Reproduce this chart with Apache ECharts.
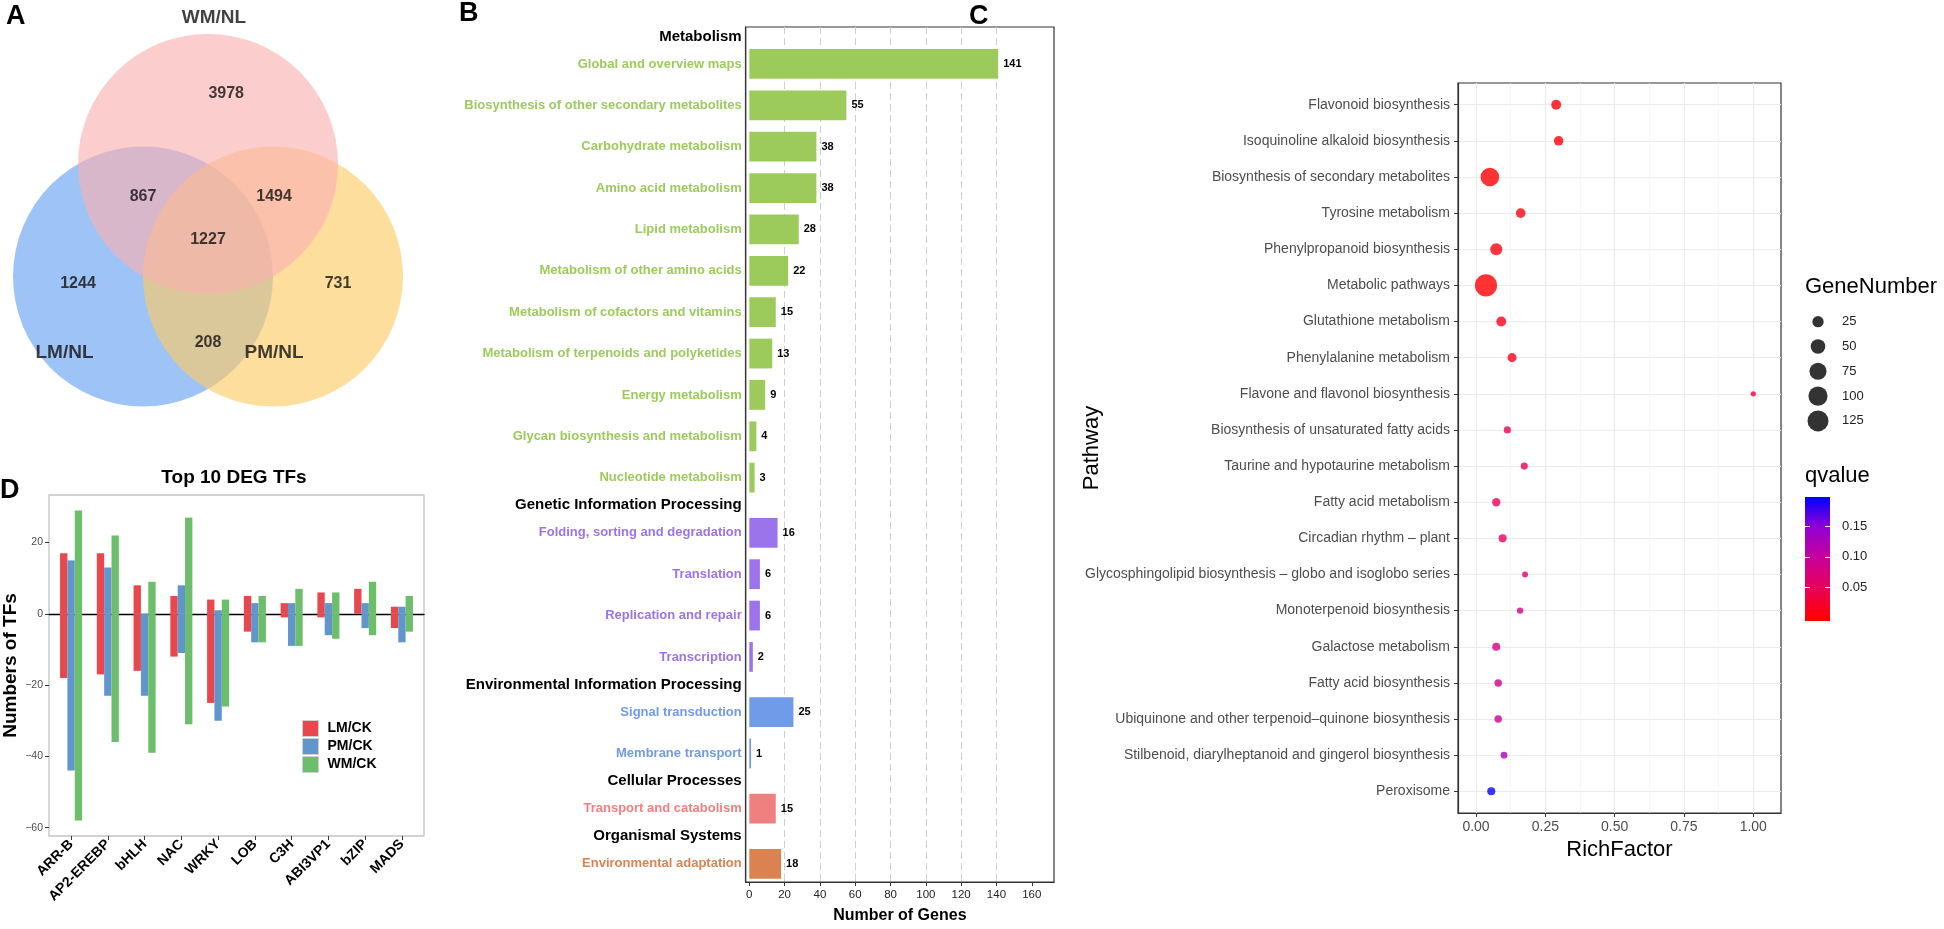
<!DOCTYPE html>
<html><head><meta charset="utf-8">
<script src="https://cdn.jsdelivr.net/npm/echarts@6/dist/echarts.min.js"></script>
<style>html,body{margin:0;padding:0;background:#fff}#main{width:1944px;height:929px}</style>
</head><body><div id="main"></div>
<script>
// ================= DATA =================
// Panel A – Venn
const vennSetNames = ['WM/NL', 'LM/NL', 'PM/NL'];
const vennRegionCounts = [3978, 867, 1494, 1227, 1244, 731, 208]; // WM only, WM∩LM, WM∩PM, all, LM only, PM only, LM∩PM

// Panel B – KEGG classification
const keggGroups = ['Metabolism', 'Genetic Information Processing', 'Environmental Information Processing', 'Cellular Processes', 'Organismal Systems'];
const keggMetabolism = ['Global and overview maps', 'Biosynthesis of other secondary metabolites', 'Carbohydrate metabolism', 'Amino acid metabolism', 'Lipid metabolism', 'Metabolism of other amino acids', 'Metabolism of cofactors and vitamins', 'Metabolism of terpenoids and polyketides', 'Energy metabolism', 'Glycan biosynthesis and metabolism', 'Nucleotide metabolism'];
const keggMetabolismCounts = [141, 55, 38, 38, 28, 22, 15, 13, 9, 4, 3];
const keggGenetic = ['Folding, sorting and degradation', 'Translation', 'Replication and repair', 'Transcription'];
const keggGeneticCounts = [16, 6, 6, 2];
const keggEnvironmental = ['Signal transduction', 'Membrane transport'];
const keggEnvironmentalCounts = [25, 1];
const keggCellular = ['Transport and catabolism'];
const keggCellularCounts = [15];
const keggOrganismal = ['Environmental adaptation'];
const keggOrganismalCounts = [18];
const keggTicks = [0, 20, 40, 60, 80, 100, 120, 140, 160];
const keggGridTicks = [20, 40, 60, 80, 100, 120, 140];

// Panel C – enrichment bubble plot
const pathways = ['Flavonoid biosynthesis', 'Isoquinoline alkaloid biosynthesis', 'Biosynthesis of secondary metabolites', 'Tyrosine metabolism', 'Phenylpropanoid biosynthesis', 'Metabolic pathways', 'Glutathione metabolism', 'Phenylalanine metabolism', 'Flavone and flavonol biosynthesis', 'Biosynthesis of unsaturated fatty acids', 'Taurine and hypotaurine metabolism', 'Fatty acid metabolism', 'Circadian rhythm \u2013 plant', 'Glycosphingolipid biosynthesis \u2013 globo and isoglobo series', 'Monoterpenoid biosynthesis', 'Galactose metabolism', 'Fatty acid biosynthesis', 'Ubiquinone and other terpenoid\u2013quinone biosynthesis', 'Stilbenoid, diarylheptanoid and gingerol biosynthesis', 'Peroxisome'];
const richFactor = [0.289, 0.298, 0.050, 0.161, 0.073, 0.036, 0.091, 0.130, 1.000, 0.113, 0.174, 0.073, 0.096, 0.177, 0.159, 0.073, 0.080, 0.080, 0.101, 0.055];
const geneNumber = [17, 15, 93, 16, 30, 141, 17, 13, 2, 6, 6, 10, 9, 3, 4, 9, 7, 7, 5, 9];
const qValue = [0.004, 0.004, 0.0005, 0.008, 0.010, 0.0002, 0.015, 0.020, 0.030, 0.045, 0.045, 0.050, 0.055, 0.065, 0.085, 0.080, 0.085, 0.090, 0.125, 0.195];
const richTicks = [0, 0.25, 0.5, 0.75, 1];
const richMinorTicks = [0.125, 0.375, 0.625, 0.875];
const geneLegendValues = [25, 50, 75, 100, 125];
const qTicks = [0.05, 0.10, 0.15];

// Panel D – top 10 DEG TFs
const tfFamilies = ['ARR-B', 'AP2-EREBP', 'bHLH', 'NAC', 'WRKY', 'LOB', 'C3H', 'ABI3VP1', 'bZIP', 'MADS'];
const tfComparisons = ['LM/CK', 'PM/CK', 'WM/CK'];
const lmUp = [17, 17, 8, 5, 4, 5, 3, 6, 7, 2];
const lmDown = [-18, -17, -16, -12, -25, -5, -1, -1, 0, -4];
const pmUp = [15, 13, 0, 8, 1, 3, 3, 3, 3, 2];
const pmDown = [-44, -23, -23, -11, -30, -8, -9, -6, -4, -8];
const wmUp = [29, 22, 9, 27, 4, 5, 7, 6, 9, 5];
const wmDown = [-58, -36, -39, -31, -26, -8, -9, -7, -6, -5];
const tfTicks = [-60, -40, -20, 0, 20];

// ================= STYLE / LAYOUT =================
const FONT = "'Liberation Sans', Arial, Helvetica, sans-serif";
const vennColors = { 'WM/NL': 'rgba(250,176,176,0.8)', 'LM/NL': 'rgba(104,161,242,0.8)', 'PM/NL': 'rgba(252,204,102,0.8)' };
const keggColors = ['#9ccb5c', '#9b73ea', '#6f9be8', '#f08080', '#da8350'];
const tfColors = ['#e8484d', '#6096cc', '#6cbe6a'];
const qColorStops = ['#ff0000', '#ea0059', '#c8009b', '#9200d5', '#0000ff'];

// Venn geometry in units of circle radius (equilateral arrangement)
const vennXRange = [-1.6, 1.6], vennYRange = [-1.6, 1.83];
const vennGrid = { left: 0, top: 1, width: 416, height: 446 };
const vennCentres = [0, 1, 2].map(i => { const a = (90 + i * 120) * Math.PI / 180; return [Math.cos(a) / Math.sqrt(3), Math.sin(a) / Math.sqrt(3)]; });
const vennRegionPos = [[0.14, 1.115], [-0.5, 0.323], [0.508, 0.323], [0, -0.008], [-1.0, -0.346], [1.0, -0.346], [0, -0.8]];
const vennSetLabelPos = [[0.046, 1.70], [-1.104, -0.877], [0.508, -0.877]];
const vennPxPerUnit = vennGrid.width / (vennXRange[1] - vennXRange[0]);
const vennDrawOrder = [1, 2, 0]; // LM, PM, WM on top

// KEGG row layout: header, then items 3 units apart
const keggItems = [keggMetabolism, keggGenetic, keggEnvironmental, keggCellular, keggOrganismal];
const keggCounts = [keggMetabolismCounts, keggGeneticCounts, keggEnvironmentalCounts, keggCellularCounts, keggOrganismalCounts];
const keggRows = [];
(function () {
  let u = 0;
  keggGroups.forEach((g, gi) => {
    keggRows.push({ name: g, pos: u, header: true, gi });
    u += 2;
    keggItems[gi].forEach((it, ii) => { keggRows.push({ name: it, pos: u, header: false, gi, value: keggCounts[gi][ii] }); u += 3; });
    u -= 1;
  });
})();
const keggRowByPos = new Map(keggRows.map(r => [r.pos, r]));

// bubble size (area scale)
const geneMax = Math.max(...geneNumber);
function bubbleSize(n) { return 3.7 + 18.4 * Math.sqrt(Math.max(0, (n - 1) / (geneMax - 1))); }

const qAxisMin = -0.004, qAxisMax = 0.197;

// ================= CHART =================
const chart = echarts.init(document.getElementById('main'));
const minusFmt = v => (v < 0 ? '\u2212' + Math.abs(v) : String(v));
const noZero = { onZero: false };

const option = {
  animation: false,
  backgroundColor: '#fff',
  textStyle: { fontFamily: FONT },
  graphic: [
    { type: 'text', x: 6, y: 3, style: { text: 'A', font: `bold 27px ${FONT}`, fill: '#000' } },
    { type: 'text', x: 459, y: 0, style: { text: 'B', font: `bold 27px ${FONT}`, fill: '#000' } },
    { type: 'text', x: 969, y: 3, style: { text: 'C', font: `bold 27px ${FONT}`, fill: '#000' } },
    { type: 'text', x: 0, y: 477, style: { text: 'D', font: `bold 27px ${FONT}`, fill: '#000' } },
    { type: 'text', x: 234, y: 478, style: { text: 'Top 10 DEG TFs', font: `bold 19px ${FONT}`, fill: '#000', align: 'center', verticalAlign: 'middle' } },
    { type: 'text', x: 1805, y: 287, style: { text: 'GeneNumber', font: `22px ${FONT}`, fill: '#000', verticalAlign: 'middle' } },
    { type: 'text', x: 1805, y: 476, style: { text: 'qvalue', font: `22px ${FONT}`, fill: '#000', verticalAlign: 'middle' } }
  ],
  legend: {
    data: tfComparisons, orient: 'vertical', left: 297, top: 715, itemWidth: 16, itemHeight: 16, itemGap: 1,
    icon: 'rect', selectedMode: false,
    itemStyle: { borderColor: '#cfcfcf', borderWidth: 1 },
    textStyle: { fontWeight: 'bold', fontSize: 14, color: '#000', fontFamily: FONT, padding: [0, 0, 0, 4] }
  },
  visualMap: {
    type: 'continuous', show: false, seriesIndex: 4, dimension: 2, min: 0, max: qAxisMax,
    inRange: { color: qColorStops }
  },
  grid: [
    { left: vennGrid.left, top: vennGrid.top, width: vennGrid.width, height: vennGrid.height },      // 0 Venn
    { left: 745.7, top: 27, width: 308.3, height: 861, show: true, borderColor: '#333', borderWidth: 1.2 }, // 1 B
    { left: 1458, top: 83, width: 323, height: 730, show: true, borderColor: '#333', borderWidth: 1.2 },   // 2 C
    { left: 1808, top: 309.3, width: 20, height: 124 },                                                       // 3 size legend
    { left: 1805, top: 497, width: 25, height: 124 },                                                          // 4 colorbar
    { left: 49, top: 495, width: 375, height: 341, show: true, borderColor: '#c4c4c4', borderWidth: 1.3 },  // 5 D frame
    { left: 52.7, top: 495, width: 367.6, height: 341 }                                                        // 6 D bars
  ],
  xAxis: [
    { gridIndex: 0, type: 'value', min: vennXRange[0], max: vennXRange[1], show: false, axisLine: noZero },
    { gridIndex: 1, type: 'value', min: -2.04, max: 172.6, position: 'bottom',
      name: 'Number of Genes', nameLocation: 'middle', nameGap: 26,
      nameTextStyle: { fontWeight: 'bold', fontSize: 16, color: '#000', fontFamily: FONT },
      axisLine: { show: true, onZero: false, lineStyle: { color: '#333', width: 1.2 } },
      axisTick: { show: true, length: 4, customValues: keggTicks, lineStyle: { color: '#333' } },
      axisLabel: { customValues: keggTicks, fontSize: 11.5, color: '#222', margin: 7 },
      splitLine: { show: false } },
    { gridIndex: 1, type: 'value', min: -2.04, max: 172.6, position: 'top',
      axisLine: { show: false, onZero: false }, axisLabel: { show: false },
      axisTick: { show: false, customValues: keggGridTicks },
      splitLine: { show: true, lineStyle: { color: '#cdcdcd', width: 1, type: [7, 4] } } },
    { gridIndex: 2, type: 'value', min: -0.065, max: 1.10, position: 'bottom',
      name: 'RichFactor', nameLocation: 'middle', nameGap: 22,
      nameTextStyle: { fontSize: 22, color: '#000', fontFamily: FONT },
      axisLine: { show: true, onZero: false, lineStyle: { color: '#333', width: 1.2 } },
      axisTick: { show: true, length: 4, customValues: richTicks, lineStyle: { color: '#333' } },
      axisLabel: { customValues: richTicks, fontSize: 14, color: '#4d4d4d', margin: 7, formatter: v => v.toFixed(2) },
      splitLine: { show: true, lineStyle: { color: '#ebebeb', width: 1.2 } } },
    { gridIndex: 2, type: 'value', min: -0.065, max: 1.10, position: 'top',
      axisLine: { show: false, onZero: false }, axisLabel: { show: false },
      axisTick: { show: false, customValues: richMinorTicks },
      splitLine: { show: true, lineStyle: { color: '#f4f4f4', width: 0.7 } } },
    { gridIndex: 3, type: 'value', min: -1, max: 1, show: false, axisLine: noZero },
    { gridIndex: 4, type: 'value', min: 0, max: 1, show: false, axisLine: noZero },
    { gridIndex: 5, type: 'value', min: 0, max: 1,
      axisLine: { show: true, onZero: true, lineStyle: { color: '#000', width: 1.3 } },
      axisTick: { show: false }, axisLabel: { show: false }, splitLine: { show: false } },
    { gridIndex: 6, type: 'category', data: tfFamilies,
      axisLine: { show: false, onZero: false },
      axisTick: { show: true, alignWithLabel: true, length: 4, lineStyle: { color: '#333' } },
      axisLabel: { interval: 0, rotate: 45, fontWeight: 'bold', fontSize: 14, color: '#000', margin: 6 },
      splitLine: { show: false } }
  ],
  yAxis: [
    { gridIndex: 0, type: 'value', min: vennYRange[0], max: vennYRange[1], show: false, axisLine: noZero },
    { gridIndex: 1, type: 'value', inverse: true, min: -0.68, max: 61.32,
      axisLine: { show: true, onZero: false, lineStyle: { color: '#333', width: 1.2 } },
      axisTick: { show: false },
      splitLine: { show: false },
      axisLabel: {
        customValues: keggRows.map(r => r.pos), margin: 4,
        formatter: v => { const r = keggRowByPos.get(Math.round(v)); if (!r) return ''; return r.header ? `{h|${r.name}}` : `{g${r.gi}|${r.name}}`; },
        rich: {
          h: { fontWeight: 'bold', fontSize: 15, color: '#000', fontFamily: FONT },
          g0: { fontWeight: 'bold', fontSize: 13, color: keggColors[0], fontFamily: FONT },
          g1: { fontWeight: 'bold', fontSize: 13, color: keggColors[1], fontFamily: FONT },
          g2: { fontWeight: 'bold', fontSize: 13, color: keggColors[2], fontFamily: FONT },
          g3: { fontWeight: 'bold', fontSize: 13, color: keggColors[3], fontFamily: FONT },
          g4: { fontWeight: 'bold', fontSize: 13, color: keggColors[4], fontFamily: FONT }
        }
      } },
    { gridIndex: 2, type: 'value', inverse: true, min: -0.6, max: 19.6,
      name: 'Pathway', nameLocation: 'middle', nameGap: 355, nameMoveOverlap: false,
      nameTextStyle: { fontSize: 22, color: '#000', fontFamily: FONT },
      axisLine: { show: true, onZero: false, lineStyle: { color: '#333', width: 1.2 } },
      axisTick: { show: true, length: 4, customValues: pathways.map((p, i) => i), lineStyle: { color: '#333' } },
      axisLabel: { customValues: pathways.map((p, i) => i), fontSize: 14, color: '#4d4d4d', margin: 8, formatter: v => pathways[Math.round(v)] || '' },
      splitLine: { show: true, lineStyle: { color: '#ebebeb', width: 1.2 } } },
    { gridIndex: 3, type: 'category', inverse: true, position: 'right', data: geneLegendValues.map(String),
      axisLine: { show: false, onZero: false }, axisTick: { show: false },
      axisLabel: { fontSize: 13, color: '#222', margin: 14 } },
    { gridIndex: 4, type: 'value', position: 'left', min: qAxisMin, max: qAxisMax, z: 10,
      axisLine: { show: false, onZero: false }, axisLabel: { show: false }, splitLine: { show: false },
      axisTick: { show: true, inside: true, length: 5, customValues: qTicks, lineStyle: { color: '#fff', width: 1 } } },
    { gridIndex: 4, type: 'value', position: 'right', min: qAxisMin, max: qAxisMax, z: 10,
      axisLine: { show: false, onZero: false }, splitLine: { show: false },
      axisTick: { show: true, inside: true, length: 5, customValues: qTicks, lineStyle: { color: '#fff', width: 1 } },
      axisLabel: { customValues: qTicks, fontSize: 13, color: '#222', margin: 12, formatter: v => v.toFixed(2) } },
    { gridIndex: 5, type: 'value', min: -62.35, max: 33.35,
      name: 'Numbers of TFs', nameLocation: 'middle', nameGap: 29,
      nameTextStyle: { fontWeight: 'bold', fontSize: 19, color: '#000', fontFamily: FONT },
      axisLine: { show: false, onZero: false },
      axisTick: { show: true, length: 4, customValues: tfTicks, lineStyle: { color: '#333' } },
      axisLabel: { customValues: tfTicks, fontSize: 10.5, color: '#4d4d4d', margin: 6, formatter: minusFmt },
      splitLine: { show: false } },
    { gridIndex: 6, type: 'value', min: -62.35, max: 33.35, show: false, axisLine: noZero }
  ],
  series: [
    // 0 Venn circles
    { type: 'scatter', xAxisIndex: 0, yAxisIndex: 0, silent: true,
      symbolSize: 2 * vennPxPerUnit,
      data: vennDrawOrder.map(i => ({ value: vennCentres[i], name: vennSetNames[i], itemStyle: { color: vennColors[vennSetNames[i]] } })) },
    // 1 Venn region counts
    { type: 'scatter', xAxisIndex: 0, yAxisIndex: 0, silent: true, symbolSize: 1, z: 5,
      itemStyle: { color: 'transparent' },
      label: { show: true, position: 'inside', formatter: p => String(p.value[2]), fontWeight: 'bold', fontSize: 16, color: '#111', fontFamily: FONT },
      data: vennRegionCounts.map((c, i) => [vennRegionPos[i][0], vennRegionPos[i][1], c]) },
    // 2 Venn set names
    { type: 'scatter', xAxisIndex: 0, yAxisIndex: 0, silent: true, symbolSize: 1, z: 5,
      itemStyle: { color: 'transparent' },
      label: { show: true, position: 'inside', formatter: p => p.name, fontWeight: 'bold', fontSize: 19, color: '#111', fontFamily: FONT },
      data: vennSetNames.map((n, i) => ({ name: n, value: vennSetLabelPos[i] })) },
    // 3 KEGG bars
    { type: 'custom', xAxisIndex: 1, yAxisIndex: 1, silent: true,
      encode: { x: 0, y: 1 },
      data: keggRows.filter(r => !r.header).map(r => [r.value, r.pos, r.gi]),
      renderItem: (params, api) => {
        const v = api.value(0), y = api.value(1), gi = api.value(2);
        const p0 = api.coord([0, y]), p1 = api.coord([v, y]);
        const h = api.size([0, 2.16])[1];
        return { type: 'group', children: [
          { type: 'rect', shape: { x: p0[0], y: p0[1] - h / 2, width: Math.max(1.5, p1[0] - p0[0]), height: h }, style: { fill: keggColors[gi] } },
          { type: 'text', x: Math.max(p1[0], p0[0] + 1.5) + 5, y: p1[1], style: { text: String(v), font: `bold 11px ${FONT}`, fill: '#000', verticalAlign: 'middle' } }
        ] };
      } },
    // 4 enrichment bubbles
    { type: 'scatter', xAxisIndex: 3, yAxisIndex: 2, silent: true,
      symbolSize: val => bubbleSize(val[3]),
      data: pathways.map((p, i) => [richFactor[i], i, qValue[i], geneNumber[i]]) },
    // 5 size legend
    { type: 'scatter', xAxisIndex: 5, yAxisIndex: 3, silent: true,
      itemStyle: { color: '#000' },
      symbolSize: val => bubbleSize(val[2]),
      data: geneLegendValues.map(v => [0, String(v), v]) },
    // 6 colour bar
    { type: 'custom', xAxisIndex: 6, yAxisIndex: 4, silent: true, z: 1,
      data: [[0, qAxisMin, 1, qAxisMax]],
      renderItem: (params, api) => {
        const a = api.coord([api.value(0), api.value(1)]);
        const b = api.coord([api.value(2), api.value(3)]);
        const stops = qColorStops.map((c, i) => {
          const q = i / (qColorStops.length - 1) * qAxisMax;
          return { offset: (q - qAxisMin) / (qAxisMax - qAxisMin), color: c };
        });
        stops.unshift({ offset: 0, color: qColorStops[0] });
        return { type: 'rect', shape: { x: a[0], y: b[1], width: b[0] - a[0], height: a[1] - b[1] },
          style: { fill: new echarts.graphic.LinearGradient(0, 1, 0, 0, stops) } };
      } },
    // 7-12 TF bars
    ...[[lmUp, lmDown], [pmUp, pmDown], [wmUp, wmDown]].flatMap((pair, ci) => pair.map(arr => ({
      type: 'bar', name: tfComparisons[ci], stack: tfComparisons[ci], xAxisIndex: 8, yAxisIndex: 7,
      barWidth: 7.35, barGap: '0%', silent: true,
      itemStyle: { color: tfColors[ci] },
      data: arr
    })))
  ]
};
chart.setOption(option);
</script>
</body></html>
